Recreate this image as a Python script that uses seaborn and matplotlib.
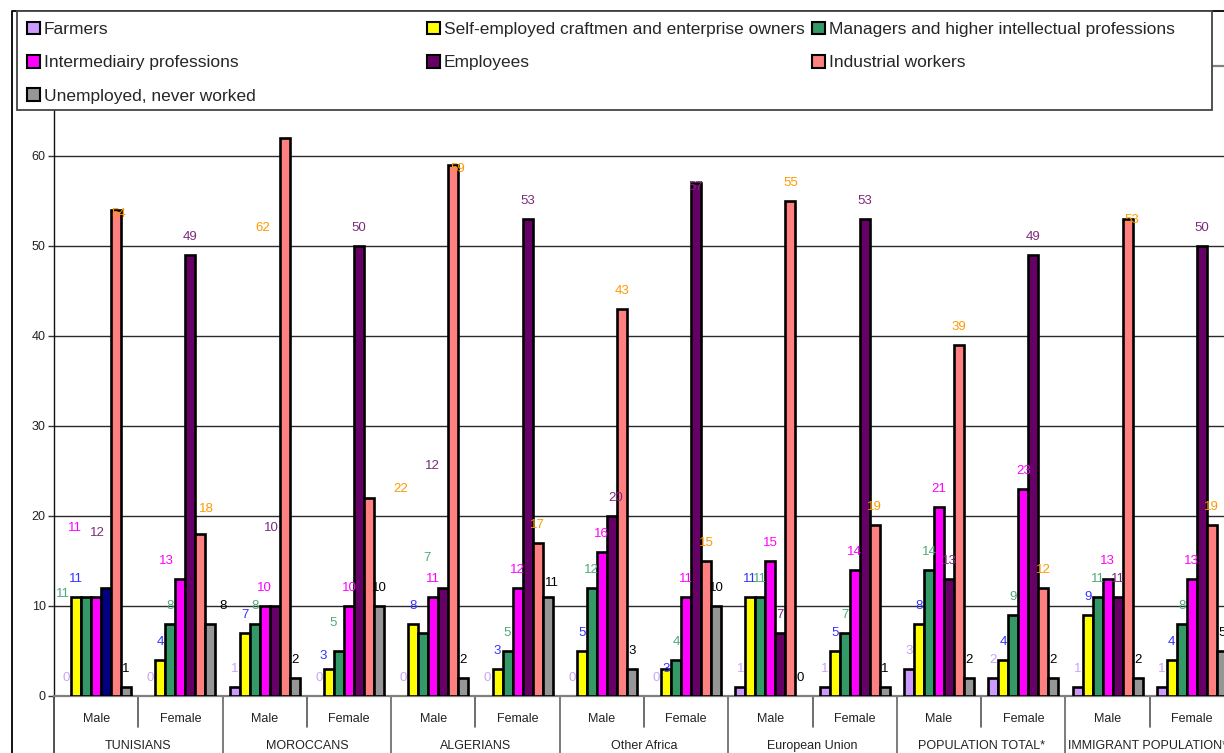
import matplotlib
matplotlib.use("Agg")
import matplotlib.pyplot as plt
from matplotlib.patches import Rectangle, Patch
from matplotlib.lines import Line2D
from matplotlib.transforms import blended_transform_factory
import pandas as pd
import seaborn as sns

# ---- data -------------------------------------------------------------
nationalities = ["TUNISIANS", "MOROCCANS", "ALGERIANS", "Other Africa",
                 "European Union", "POPULATION TOTAL*", "IMMIGRANT POPULATION**"]
sexes = ["Male", "Female"]
categories = ["Farmers",
              "Self-employed craftmen and enterprise owners",
              "Managers and higher intellectual professions",
              "Intermediairy professions",
              "Employees",
              "Industrial workers",
              "Unemployed, never worked"]

# one value per nationality/sex group (Male, Female alternating)
farmers       = [0, 0, 1, 0, 0, 0, 0, 0, 1, 1, 3, 2, 1, 1]
self_employed = [11, 4, 7, 3, 8, 3, 5, 3, 11, 5, 8, 4, 9, 4]
managers      = [11, 8, 8, 5, 7, 5, 12, 4, 11, 7, 14, 9, 11, 8]
intermediary  = [11, 13, 10, 10, 11, 12, 16, 11, 15, 14, 21, 23, 13, 13]
employees     = [12, 49, 10, 50, 12, 53, 20, 57, 7, 53, 13, 49, 11, 50]
industrial    = [54, 18, 62, 22, 59, 17, 43, 15, 55, 19, 39, 12, 53, 19]
unemployed    = [1, 8, 2, 10, 2, 11, 3, 10, 0, 1, 2, 2, 2, 5]

y_ticks = [0, 10, 20, 30, 40, 50, 60]

# ---- styling ----------------------------------------------------------
bar_colors = ["#CC99FF", "#FFFF00", "#339966", "#FF00FF", "#660066", "#FF8080", "#969696"]
label_colors = ["#C8A4F6", "#3333FF", "#4DAA78", "#FF00FF", "#7B2A7B", "#FF9900", "#000000"]

# hand-placed data labels: (group, category) -> (x shift in bar widths, y above value)
label_nudges = {
    (0, 2): (-2.3, 0.3), (0, 3): (-2.1, 7.7), (0, 4): (-0.9, 6.1), (0, 5): (0.3, -0.4),
    (1, 3): (-1.4, 2.0), (1, 5): (0.6, 2.8), (1, 6): (1.3, 2.0),
    (2, 4): (-0.3, 8.7), (2, 5): (-2.2, -10.0),
    (3, 1): (-0.6, 1.4), (3, 2): (-0.6, 3.1), (3, 5): (3.2, 1.0),
    (4, 2): (0.4, 8.3), (4, 4): (-1.1, 13.6), (4, 5): (0.5, -0.5),
    (5, 6): (0.4, 1.6),
    (6, 4): (0.4, 2.0),
    (7, 1): (0.0, 0.0), (7, 4): (0.0, -0.4),
    (12, 5): (0.4, -0.1),
}

series = [farmers, self_employed, managers, intermediary, employees, industrial, unemployed]
groups = [f"{n} | {s}" for n in nationalities for s in sexes]

rows = []
for cat, vals in zip(categories, series):
    for g, v in zip(groups, vals):
        rows.append({"group": g, "category": cat, "share": v})
df = pd.DataFrame(rows)

sns.set_theme(style="white")
plt.rcParams["font.family"] = ["Liberation Sans", "DejaVu Sans"]

W, H = 1224, 753
fig = plt.figure(figsize=(W / 100, H / 100), dpi=100)


def fx(px):
    return px / W


def fy(py):
    return 1 - py / H


ax = fig.add_axes([fx(54), fy(696), fx(1234) - fx(54), fy(66) - fy(696)])

sns.barplot(data=df, x="group", y="share", hue="category", order=groups,
            hue_order=categories, palette=bar_colors, width=0.83, gap=0,
            saturation=1, edgecolor="black", linewidth=1.9, errorbar=None,
            legend=False, ax=ax, zorder=3)

# the Tunisian male employees bar is drawn in navy
ax.containers[4][0].set_facecolor("#000080")

# data labels
for ci, cont in enumerate(ax.containers):
    for patch in cont:
        cx = patch.get_x() + patch.get_width() / 2
        gi = int(round(cx))
        v = series[ci][gi]
        if v == 0:
            patch.set_linewidth(0)
        dx, dy = label_nudges.get((gi, ci), (0.0, 2.0))
        ax.text(cx + dx * patch.get_width(), v + dy, str(v), ha="center", va="center",
                fontsize=9.5, color=label_colors[ci], zorder=5, clip_on=False)

ax.set_xlim(-0.5, len(groups) - 0.5)
ax.set_ylim(0, 70)
ax.set_yticks(y_ticks)
ax.set_yticklabels([str(t) for t in y_ticks])
ax.yaxis.grid(True, color="#2a2a2a", linewidth=1.0)
ax.set_axisbelow(True)
ax.tick_params(axis="y", left=True, length=4, width=1, color="#333333",
               labelsize=9, pad=2, labelcolor="#222222")
ax.set_ylabel("")
ax.set_xlabel("")

ax.set_xticks(range(len(groups)))
ax.set_xticklabels(sexes * len(nationalities))
ax.tick_params(axis="x", bottom=False, length=0, labelsize=9, pad=12, labelcolor="#222222")

ax.spines["right"].set_visible(False)
ax.spines["left"].set_color("#111111")
ax.spines["left"].set_linewidth(1.0)
ax.spines["bottom"].set_color("#808080")
ax.spines["bottom"].set_linewidth(1.6)
ax.spines["top"].set_color("#808080")
ax.spines["top"].set_linewidth(1.6)

# category dividers below the axis
tr = blended_transform_factory(ax.transData, fig.transFigure)
for k in range(len(groups) + 1):
    xb = k - 0.5
    if k % 2 == 0:
        ax.plot([xb, xb], [fy(696), 0], transform=tr, color="#333333" if k == 0 else "#666666",
                lw=1.2, clip_on=False, scalex=False, scaley=False)
    else:
        ax.plot([xb, xb], [fy(696), fy(727)], transform=tr, color="#555555",
                lw=1.2, clip_on=False, scalex=False, scaley=False)

for i, name in enumerate(nationalities):
    ax.annotate(name, xy=(2 * i + 0.5, 0), xycoords=("data", "axes fraction"),
                xytext=(0, -50), textcoords="offset pixels", ha="center", va="center",
                fontsize=9, color="#222222", annotation_clip=False)

# chart border and legend frame
fig.add_artist(Line2D([fx(12), fx(12), 1.0], [0, fy(11), fy(11)],
                      transform=fig.transFigure, color="black", lw=1.3))
fig.add_artist(Rectangle((fx(17), fy(110)), fx(1212) - fx(17), fy(11) - fy(110),
                         transform=fig.transFigure, facecolor="white",
                         edgecolor="#444444", lw=1.3, zorder=3))

handles = [Patch(facecolor=c, edgecolor="black", linewidth=1.5) for c in bar_colors]
legend_columns = [(27, [0, 3, 6]), (427, [1, 4]), (812, [2, 5])]
for x0, idxs in legend_columns:
    fig.legend([handles[i] for i in idxs], [categories[i] for i in idxs],
               loc="upper left", bbox_to_anchor=(fx(x0), fy(22)),
               bbox_transform=fig.transFigure, frameon=False, borderpad=0,
               borderaxespad=0, handlelength=0.72, handleheight=0.72,
               handletextpad=0.25, labelspacing=1.03, fontsize=12.5)

fig.savefig("out.png", dpi=100)
